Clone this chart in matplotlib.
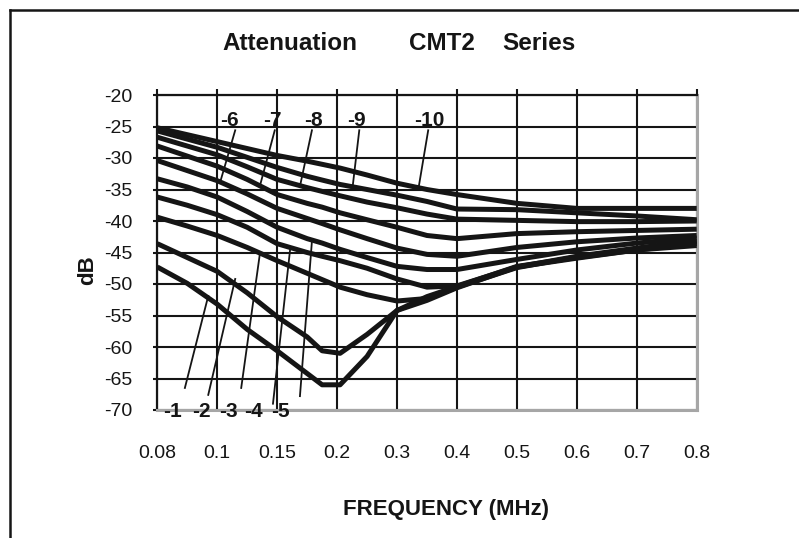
"""Attenuation chart for the CMT2 series, ten curves on a category frequency axis."""

import matplotlib
matplotlib.use("Agg")
import matplotlib.pyplot as plt
import numpy as np
from matplotlib.lines import Line2D

plt.rcParams["font.family"] = ["Liberation Sans", "DejaVu Sans"]
plt.rcParams["axes.unicode_minus"] = False

# --- data -----------------------------------------------------------------
tick_mhz = [0.08, 0.1, 0.15, 0.2, 0.3, 0.4, 0.5, 0.6, 0.7, 0.8]
tick_labels = ["0.08", "0.1", "0.15", "0.2", "0.3", "0.4", "0.5", "0.6", "0.7", "0.8"]

# frequencies at which each curve was read (MHz)
sample_mhz = [0.08, 0.09, 0.1, 0.125, 0.15, 0.175, 0.1875, 0.205,
              0.25, 0.3, 0.35, 0.4, 0.5, 0.6, 0.7, 0.8]

db_1 = [-47.3, -49.9, -53.2, -57.2, -60.6, -64.2, -66.0, -66.0,
        -61.5, -54.2, -52.6, -50.6, -47.3, -45.9, -44.6, -43.9]
db_2 = [-43.6, -45.8, -48.0, -51.4, -55.2, -58.4, -60.6, -61.0,
        -58.0, -54.2, -52.0, -50.4, -47.2, -45.8, -44.6, -43.6]
db_3 = [-39.4, -40.8, -42.3, -44.2, -46.3, -48.3, -49.3, -50.5,
        -51.7, -52.7, -52.3, -50.5, -47.4, -45.7, -44.4, -43.3]
db_4 = [-36.2, -37.5, -39.0, -41.0, -43.6, -45.0, -45.6, -46.3,
        -47.5, -49.2, -50.5, -50.3, -47.3, -45.6, -44.3, -43.1]
db_5 = [-33.3, -34.6, -36.2, -38.5, -41.0, -42.8, -43.5, -44.5,
        -45.8, -47.2, -47.7, -47.7, -46.1, -44.6, -43.5, -42.7]
db_6 = [-30.4, -32.0, -33.6, -35.7, -38.0, -39.6, -40.4, -41.4,
        -42.8, -44.3, -45.3, -45.6, -44.2, -43.3, -42.7, -42.3]
db_7 = [-28.1, -29.7, -31.3, -33.4, -35.8, -37.2, -37.8, -38.7,
        -39.8, -41.0, -42.3, -42.8, -42.0, -41.7, -41.5, -41.3]
db_8 = [-26.7, -28.1, -29.5, -31.4, -33.4, -34.7, -35.3, -36.0,
        -37.0, -37.9, -38.9, -39.7, -39.9, -40.1, -40.1, -40.0]
db_9 = [-25.7, -27.0, -28.3, -29.9, -31.5, -32.9, -33.5, -34.2,
        -35.0, -35.9, -36.9, -38.1, -38.2, -38.7, -39.2, -39.8]
db_10 = [-25.2, -26.3, -27.4, -28.5, -29.6, -30.5, -31.0, -31.6,
         -32.7, -34.0, -35.0, -35.8, -37.2, -38.0, -38.0, -38.0]

curves = [db_1, db_2, db_3, db_4, db_5, db_6, db_7, db_8, db_9, db_10]
curve_names = ["-1", "-2", "-3", "-4", "-5", "-6", "-7", "-8", "-9", "-10"]

# callout label anchor (category index, dB) and leader line end on the curve
label_pos = [(0.26, -70.3), (0.73, -70.3), (1.18, -70.3), (1.61, -70.3), (2.06, -70.3),
             (1.20, -24.0), (1.92, -24.0), (2.60, -24.0), (3.33, -24.0), (4.54, -24.0)]
leader_from = [(0.46, -66.5), (0.85, -67.6), (1.40, -66.5), (1.93, -69.0), (2.38, -67.8),
               (1.30, -25.6), (1.96, -25.6), (2.58, -25.6), (3.37, -25.6), (4.52, -25.6)]
leader_to = [(0.85, -51.9), (1.30, -49.2), (1.71, -45.3), (2.22, -44.2), (2.58, -43.2),
             (1.05, -33.8), (1.71, -34.5), (2.38, -34.5), (3.26, -34.5), (4.36, -34.7)]

ink = "#151515"

# --- figure -----------------------------------------------------------------
fig = plt.figure(figsize=(7.99, 5.38), dpi=100)
W, H = 799, 538
ax = fig.add_axes([157.3 / W, 1 - 410 / H, (696.7 - 157.3) / W, (410 - 95) / H])

x_cat = np.arange(len(tick_mhz))
x = np.interp(sample_mhz, tick_mhz, x_cat)

for vals in curves:
    ax.plot(x, vals, color=ink, lw=3.6, solid_joinstyle="round",
            solid_capstyle="butt", zorder=3)

for (x0, y0), (x1, y1) in zip(leader_from, leader_to):
    ax.plot([x0, x1], [y0, y1], color=ink, lw=1.3, clip_on=False, zorder=4)

for name, (lx, ly) in zip(curve_names, label_pos):
    ax.text(lx, ly, name, ha="center", va="center", fontsize=15,
            fontweight="bold", color=ink, zorder=5)

ax.set_xlim(0, 9)
ax.set_ylim(-70, -20)
ax.set_xticks(x_cat)
ax.set_xticklabels(tick_labels)
ax.set_yticks(np.arange(-70, -15, 5))
ax.set_yticklabels([str(v) for v in range(-70, -15, 5)])

ax.set_axisbelow(True)
ax.grid(True, color=ink, lw=1.5)

ax.tick_params(axis="x", bottom=False, top=True, labelbottom=True, labeltop=False,
               direction="out", length=4, width=1.5, color=ink, pad=21,
               labelsize=14, labelcolor=ink)
ax.tick_params(axis="y", left=True, direction="out", length=3, width=1.5,
               color=ink, pad=15, labelsize=14, labelcolor=ink)

for side in ("top", "left"):
    ax.spines[side].set_color(ink)
    ax.spines[side].set_linewidth(1.6)
for side in ("right", "bottom"):
    ax.spines[side].set_color("#a6a6a6")
    ax.spines[side].set_linewidth(2.2)

# titles and axis names
fig.text(222 / W, 1 - 43 / H, "Attenuation", ha="left", va="center",
         fontsize=17.5, fontweight="bold", color=ink)
fig.text(409 / W, 1 - 43 / H, "CMT2", ha="left", va="center",
         fontsize=17.5, fontweight="bold", color=ink)
fig.text(502 / W, 1 - 43 / H, "Series", ha="left", va="center",
         fontsize=17.5, fontweight="bold", color=ink)
fig.text(446 / W, 1 - 509 / H, "FREQUENCY (MHz)", ha="center", va="center",
         fontsize=16, fontweight="bold", color=ink)
fig.text(88 / W, 1 - 270 / H, "dB", ha="center", va="center", rotation=90,
         fontsize=16, fontweight="bold", color=ink)

# outer frame (only the top and left edges are visible in the original)
fig.add_artist(Line2D([10 / W, 1.0], [1 - 10 / H, 1 - 10 / H], color=ink, lw=1.8))
fig.add_artist(Line2D([10 / W, 10 / W], [1 - 10 / H, 0.0], color=ink, lw=1.8))

fig.savefig("out.png", dpi=100)
